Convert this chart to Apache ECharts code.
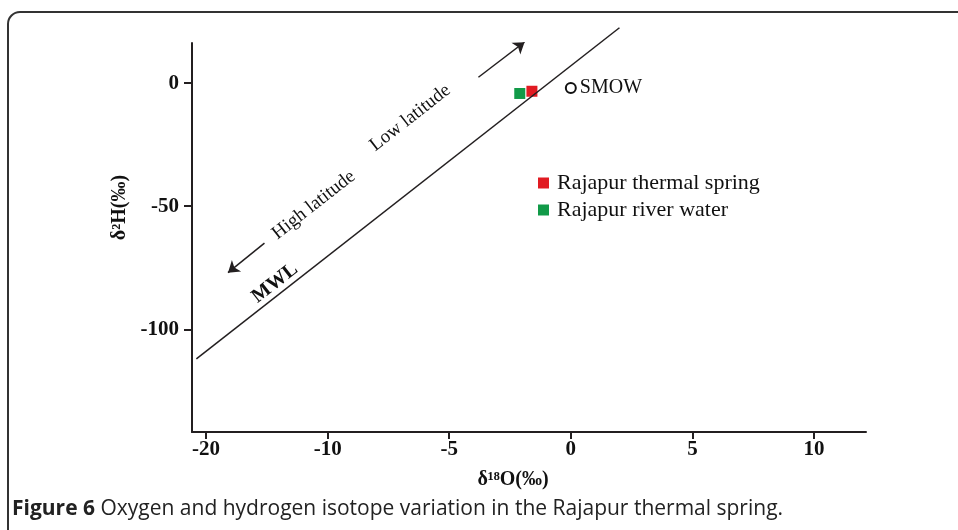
<!DOCTYPE html>
<html>
<head>
<meta charset="utf-8">
<script src="https://cdn.jsdelivr.net/npm/echarts@6/dist/echarts.min.js"></script>
<style>
  html, body { margin: 0; padding: 0; background: #fff; }
  #chart { width: 958px; height: 530px; }
</style>
</head>
<body>
<div id="chart"></div>
<script>
// tick positions on the linear scale and the labels printed under them
var xTickValues = [-15, -10, -5, 0, 5, 10];
var xTickLabels = ['-20', '-10', '-5', '0', '5', '10'];
var yTickValues = [0, -50, -100];
var yTickLabels = ['0', '-50', '-100'];

// meteoric water line, two ends
var mwlX = [-15.4, 2.0];
var mwlY = [-112, 22.5];

// samples
var springPoint = [-1.6, -3.3];
var riverPoint = [-2.1, -4.2];
var smowPoint = [0, -2];

// arrows (tail, head)
var lowArrow = [[-3.8, 2.4], [-1.9, 16.7]];
var highArrow = [[-12.6, -65], [-14.1, -77]];

var serif = '"Liberation Serif", "DejaVu Serif", serif';
var ink = '#231f20';

var chart = echarts.init(document.getElementById('chart'));

chart.setOption({
  animation: false,
  backgroundColor: '#fff',
  grid: { left: 192, right: 92, top: 43, bottom: 98 },
  legend: {
    data: ['Rajapur thermal spring', 'Rajapur river water'],
    orient: 'vertical',
    left: 533,
    top: 167,
    itemWidth: 11,
    itemHeight: 11,
    itemGap: 5,
    icon: 'rect',
    textStyle: { fontFamily: serif, fontSize: 22, color: '#111', padding: [0, 0, 0, 3] }
  },
  xAxis: {
    type: 'value',
    min: -15.58,
    max: 12.14,
    splitLine: { show: false },
    axisLine: { onZero: false, lineStyle: { color: ink, width: 2 } },
    axisTick: { customValues: xTickValues, length: 7, lineStyle: { color: ink, width: 2 } },
    axisLabel: {
      customValues: xTickValues,
      formatter: function (v) { return xTickLabels[xTickValues.indexOf(v)]; },
      fontFamily: serif, fontWeight: 'bold', fontSize: 21, color: '#111', margin: 7
    },
    name: 'δ¹⁸O(‰)',
    nameLocation: 'middle',
    nameGap: 38,
    nameTextStyle: { fontFamily: serif, fontWeight: 'bold', fontSize: 20, color: '#111', padding: [0, 32, 0, 0] }
  },
  yAxis: {
    type: 'value',
    min: -141.7,
    max: 16.3,
    splitLine: { show: false },
    axisLine: { onZero: false, lineStyle: { color: ink, width: 2 } },
    axisTick: { customValues: yTickValues, length: 8, lineStyle: { color: ink, width: 2 } },
    axisLabel: {
      customValues: yTickValues,
      formatter: function (v) { return yTickLabels[yTickValues.indexOf(v)]; },
      fontFamily: serif, fontWeight: 'bold', fontSize: 21, color: '#111', margin: 13
    },
    name: 'δ²H(‰)',
    nameLocation: 'middle',
    nameGap: 56,
    nameTextStyle: { fontFamily: serif, fontWeight: 'bold', fontSize: 20, color: '#111', padding: [0, 0, 0, 60] }
  },
  graphic: [
    {
      type: 'rect',
      shape: { x: 8, y: 12, width: 980, height: 560, r: 12 },
      style: { fill: 'none', stroke: '#333', lineWidth: 2 },
      silent: true
    },
    {
      type: 'text',
      left: 12,
      top: 499,
      style: {
        text: '{b|Figure 6} Oxygen and hydrogen isotope variation in the Rajapur thermal spring.',
        rich: {
          b: { fontFamily: '"Open Sans", sans-serif', fontWeight: 'bold', fontSize: 21, fill: '#222' }
        },
        fontFamily: '"Open Sans", sans-serif',
        fontSize: 21,
        fill: '#222'
      }
    }
  ],
  series: [
    {
      name: 'MWL',
      type: 'line',
      data: mwlX.map(function (x, i) { return [x, mwlY[i]]; }),
      showSymbol: false,
      clip: false,
      lineStyle: { color: ink, width: 1.5 },
      silent: true
    },
    {
      name: 'arrows',
      type: 'lines',
      coordinateSystem: 'cartesian2d',
      data: [{ coords: lowArrow }, { coords: highArrow }],
      symbol: ['none', 'arrow'],
      symbolSize: 11,
      lineStyle: { color: ink, width: 1.5, opacity: 1 },
      silent: true
    },
    {
      name: 'notes',
      type: 'scatter',
      symbolSize: 0,
      silent: true,
      itemStyle: { opacity: 1 },
      label: {
        show: true,
        position: 'inside',
        rotate: 38,
        fontFamily: serif,
        fontSize: 19,
        color: '#111'
      },
      data: [
        { value: [-6.6, -14.1], label: { formatter: 'Low latitude' } },
        { value: [-10.57, -49.5], label: { formatter: 'High latitude' } },
        { value: [-12.17, -81.2], label: { formatter: 'MWL', fontWeight: 'bold', fontSize: 20 } }
      ]
    },
    {
      name: 'Rajapur river water',
      type: 'scatter',
      symbol: 'rect',
      symbolSize: 11,
      itemStyle: { color: '#119a48', opacity: 1 },
      data: [riverPoint]
    },
    {
      name: 'Rajapur thermal spring',
      type: 'scatter',
      symbol: 'rect',
      symbolSize: 11,
      itemStyle: { color: '#e11b22', opacity: 1 },
      data: [springPoint]
    },
    {
      name: 'SMOW',
      type: 'scatter',
      symbol: 'circle',
      symbolSize: 10,
      itemStyle: { color: '#fff', borderColor: '#111', borderWidth: 2, opacity: 1 },
      label: {
        show: true,
        position: 'right',
        distance: 3,
        formatter: 'SMOW',
        fontFamily: serif,
        fontSize: 20,
        color: '#111'
      },
      data: [smowPoint]
    }
  ]
});
</script>
</body>
</html>
